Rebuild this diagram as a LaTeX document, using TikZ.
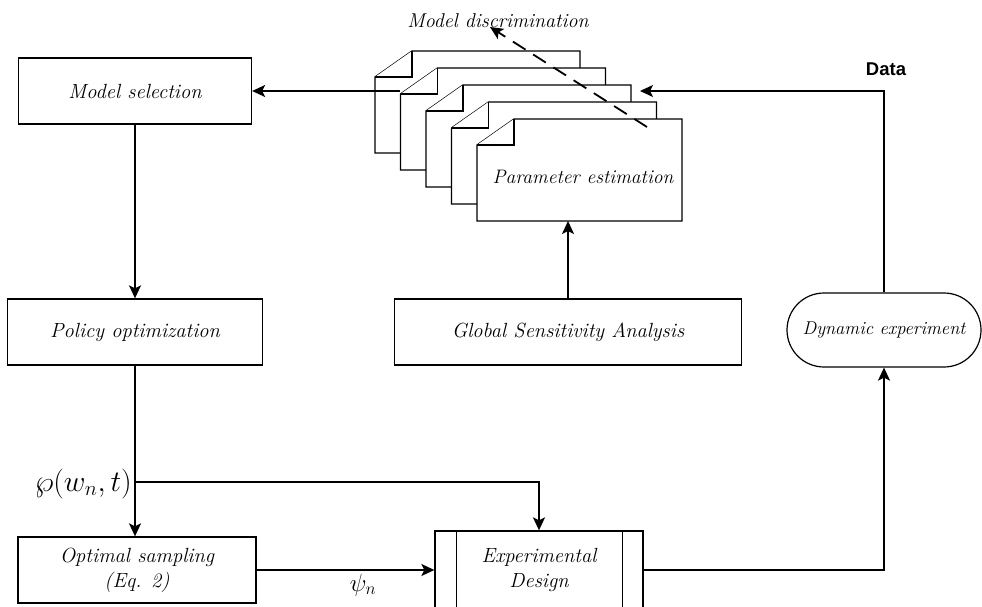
\documentclass[tikz,border=0pt]{standalone}
\usepackage{fontspec}
\usepackage{amsmath}
\usepackage{graphicx}
\usepackage{tikz}
\usetikzlibrary{arrows.meta,calc,shapes.misc}
\newfontfamily\datafont{Liberation Sans}

\tikzset{
  box/.style={draw, line width=1.3pt, rectangle, inner sep=2pt, align=center,
    font=\fontsize{20.5}{25}\selectfont\itshape},
  sheet/.style={draw, fill=white, line width=1.3pt},
  flow/.style={line width=1.8pt, -{Stealth[length=13pt,width=12pt,inset=3pt]}},
}

\begin{document}
\begin{tikzpicture}[x=1pt,y=1pt,yscale=-1]
\useasboundingbox (0,0) rectangle (982,607);

%Shape: Stack of sheets
\foreach \i in {0,...,4}{
  \begin{scope}[shift={(25.5*\i,17*\i)}]
    \draw[sheet] (412,51) -- (580,51) -- (580,153) -- (375,153) -- (375,77) -- cycle;
    \draw[sheet] (375,77) -- (412,77) -- (412,51);
  \end{scope}
}

%Shape: Rectangle [Model selection]
\node[box, minimum width=233pt, minimum height=66pt] (msel) at (135,91) {Model selection};
%Shape: Rectangle [Policy optimization]
\node[box, minimum width=255pt, minimum height=66pt] (popt) at (135,332) {Policy optimization};
%Shape: Rectangle [Optimal sampling]
\node[box, minimum width=238pt, minimum height=66pt] (osamp) at (137,570) {Optimal sampling\\(Eq. 2)};
%Shape: Rectangle [Global Sensitivity Analysis]
\node[box, minimum width=347pt, minimum height=66pt] (gsa) at (568,332) {Global Sensitivity Analysis};
%Shape: Stadium [Dynamic experiment]
\node[box, rounded rectangle, line width=1.2pt, minimum width=198pt, minimum height=74pt,
  font=\fontsize{18.5}{22}\selectfont\itshape] (dyn) at (884,330) {Dynamic experiment};
%Shape: Predefined process [Experimental Design]
\node[box, minimum width=208pt, minimum height=78pt] (expd) at (539,570) {Experimental\\Design};
\draw[line width=1.3pt] ($(expd.north west)+(22,0)$) -- ($(expd.south west)+(22,0)$);
\draw[line width=1.3pt] ($(expd.north east)+(-21,0)$) -- ($(expd.south east)+(-21,0)$);

% Text Node
\node[font=\fontsize{19.5}{24}\selectfont\itshape] (pest) at (583,177) {Parameter estimation};
% Text Node
\node[font=\fontsize{20}{24}\selectfont\itshape] (mdis) at (498,21) {Model discrimination};
% Text Node
\node[font=\fontsize{18.5}{22}\selectfont\datafont\bfseries] (data) at (886,69) {Data};
% Text Node
\node[anchor=east, inner sep=1pt, font=\fontsize{24}{28}\selectfont] (wlab) at (133,484) {\scalebox{1.2}{$\wp(w_n,t)$}};
% Text Node
\node[font=\fontsize{24}{28}\selectfont] (plab) at (363,585) {$\psi_n$};

%Coordinates for free ends
\coordinate (pin) at (568,221);
\coordinate (pout) at (400,91);
\coordinate (din) at (640,91);
\coordinate (split) at (135,482);
\coordinate (dsA) at (647,127);
\coordinate (dsB) at (490,27);

%Straight Lines
\draw[flow] (msel.south) -- (popt.north);
\draw[flow] (popt.south) -- (popt.south |- osamp.north);
\draw[flow] (split) -| (expd.north);
\draw[flow] (osamp.east) -- (expd.west);
\draw[flow] (expd.east) -| (dyn.south);
\draw[flow] (dyn.north) |- (din);
\draw[flow] (gsa.north -| pin) -- (pin);
\draw[flow] (pout) -- (msel.east);
\draw[flow, dash pattern=on 15pt off 9pt] (dsA) -- (dsB);

\end{tikzpicture}
\end{document}
